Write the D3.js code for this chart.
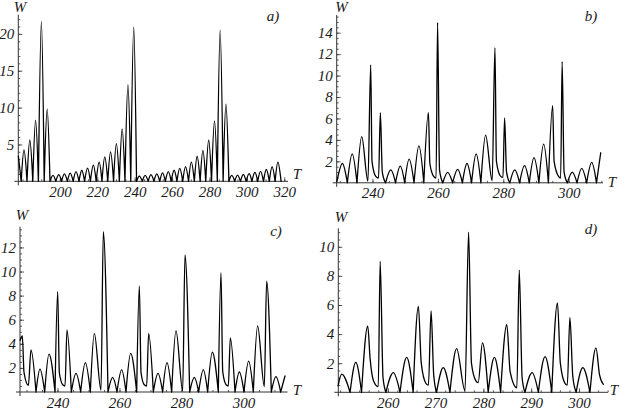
<!DOCTYPE html>
<meta charset="utf-8">
<script src="https://d3js.org/d3.v7.min.js"></script>
<style>
  body { margin: 0; background: #fff; }
  svg text { font-family: "Liberation Serif", "DejaVu Serif", serif !important; font-style: italic; font-size: 15px !important; fill: #1a1a1a; }
</style>
<svg id="chart" width="621" height="412"></svg>
<script>

// panel a) : vertices of the curve (time T, value W)
var aT = [177.8, 179.3, 180.8, 182.4, 183.9, 185.5, 187.0, 188.5, 190.1, 191.6,
  193.2, 194.7, 196.3, 197.8, 199.4, 200.9, 202.4, 204.0, 205.5, 207.1,
  208.6, 210.2, 211.7, 213.2, 214.8, 216.3, 217.9, 219.4, 221.0, 222.5,
  224.0, 225.6, 227.1, 228.7, 230.2, 231.8, 233.3, 234.8, 236.4, 237.9,
  239.5, 241.0, 242.5, 244.1, 245.6, 247.2, 248.7, 250.3, 251.8, 253.4,
  254.9, 256.4, 258.0, 259.5, 261.1, 262.6, 264.1, 265.7, 267.2, 268.8,
  270.3, 271.9, 273.4, 275.0, 276.5, 278.0, 279.6, 281.1, 282.7, 284.2,
  285.7, 287.3, 288.8, 290.4, 291.9, 293.5, 295.0, 296.6, 298.1, 299.6,
  301.2, 302.7, 304.3, 305.8, 307.3, 308.9, 310.4, 312.0, 313.5, 315.1,
  316.6, 318.3]
var aW = [3.4, 0, 4.25, 0, 5.6, 0, 8.3, 0, 21.7, 0,
  9.8, 0, 0.8, 0, 0.9, 0, 1.0, 0, 1.1, 0,
  1.3, 0, 1.5, 0, 1.8, 0, 2.2, 0, 2.6, 0,
  3.3, 0, 4.0, 0, 5.1, 0, 7.1, 0, 13.1, 0,
  20.9, 0, 0.7, 0, 0.8, 0, 0.9, 0, 1.0, 0,
  1.15, 0, 1.3, 0, 1.5, 0, 1.75, 0, 2.0, 0,
  2.6, 0, 3.4, 0, 4.2, 0, 5.6, 0, 8.2, 0,
  20.5, 0, 10.45, 0, 0.8, 0, 0.85, 0, 0.95, 0,
  1.05, 0, 1.2, 0, 1.35, 0, 1.6, 0, 2.0, 0,
  2.6, 0]

// panel b)
var bT = [229.1, 230.8, 232.3, 233.8, 235.25, 236.7, 238.6, 239.45, 239.85, 241.0,
  241.85, 242.4, 243.0, 244.0, 245.6, 247.05, 248.5, 249.85, 251.2, 252.7,
  254.2, 255.7, 257.1, 257.55, 258.7, 259.45, 259.9, 260.5, 261.5, 263.0,
  264.5, 266.05, 267.5, 268.9, 270.3, 271.7, 273.15, 274.6, 276.6, 277.45,
  277.9, 279.2, 279.9, 280.4, 281.0, 282.0, 283.5, 285.0, 286.5, 287.95,
  289.4, 290.9, 292.35, 293.8, 295.1, 295.55, 296.9, 297.55, 298.0, 298.6,
  299.6, 301.1, 302.55, 304.0, 305.5, 307.05, 308.5, 309.8]
var bW = [0.1, 1.8, 0, 2.7, 0, 4.3, 0.15, 11.0, 2.0, 0.6,
  0.45, 6.55, 1.0, 0, 1.2, 0, 1.55, 0, 2.2, 0,
  3.45, 0, 6.55, 1.8, 0.6, 0.45, 14.95, 1.2, 0, 0.97,
  0, 1.25, 0, 1.8, 0, 2.7, 0, 4.45, 0.2, 12.6,
  2.0, 0.6, 0.5, 6.05, 1.0, 0, 1.2, 0, 1.6, 0,
  2.35, 0, 3.6, 0, 7.2, 2.0, 0.6, 0.45, 11.3, 1.0,
  0, 1.0, 0, 1.35, 0, 1.9, 0, 2.8]

// panel c)
var cT = [227.95, 228.65, 229.2, 230.6, 231.45, 233.06, 234.35, 235.86, 237.26, 239.2,
  240.05, 240.6, 241.7, 242.42, 243.06, 244.46, 245.97, 247.47, 248.98, 250.59,
  251.88, 254.03, 254.78, 256.29, 257.8, 259.19, 260.7, 262.1, 263.6, 265.54,
  266.4, 266.95, 268.0, 268.76, 269.41, 270.91, 272.42, 273.92, 275.32, 276.83,
  278.23, 280.38, 281.13, 282.64, 284.14, 285.54, 287.04, 288.44, 289.95, 291.88,
  292.74, 293.3, 294.4, 295.11, 295.75, 297.26, 298.66, 300.16, 301.67, 303.17,
  304.57, 306.72, 307.47, 308.98, 310.48, 311.99, 313.39]
var cW = [4.3, 4.65, 1.6, 0.55, 3.5, 0, 1.9, 0, 3.15, 0,
  8.33, 1.6, 0.6, 0.5, 5.15, 0, 1.55, 0, 2.43, 0,
  4.87, 0.15, 13.3, 0, 1.22, 0, 1.83, 0, 3.2, 0,
  8.8, 1.6, 0.6, 0.5, 4.87, 0, 1.55, 0, 2.43, 0,
  5.1, 0.12, 11.37, 0, 1.22, 0, 1.83, 0, 3.3, 0,
  9.9, 1.7, 0.6, 0.5, 4.5, 0, 1.66, 0, 2.57, 0,
  5.48, 0.45, 9.2, 0, 1.27, 0, 1.33]

// panel d)
var dT = [249.6, 250.35, 252.1, 253.3, 254.5, 255.8, 256.3, 257.0, 258.0, 258.4,
  259.0, 259.6, 261.15, 262.55, 263.95, 265.3, 266.4, 267.0, 268.0, 268.5,
  269.05, 269.6, 270.2, 271.6, 273.0, 274.4, 276.15, 276.9, 277.5, 278.4,
  278.9, 279.8, 281.0, 282.3, 283.6, 284.9, 285.6, 287.0, 287.5, 288.1,
  288.7, 290.2, 291.5, 292.9, 294.3, 295.5, 296.1, 297.1, 297.55, 298.1,
  298.7, 299.4, 300.8, 302.3, 303.55, 304.3, 305.1]
var dW = [0.45, 1.25, 0, 2.05, 0, 4.55, 2.3, 0.8, 0.39, 9.0,
  1.0, 0, 1.35, 0, 2.4, 0, 5.9, 2.0, 0.6, 0.5,
  5.6, 1.2, 0, 1.7, 0, 3.0, 0.1, 11.0, 2.0, 0.8,
  0.66, 3.4, 0, 2.4, 0, 4.65, 1.4, 0.3, 8.4, 1.0,
  0, 1.35, 0, 2.45, 0, 6.15, 2.0, 0.6, 0.5, 5.15,
  1.1, 0, 1.7, 0, 3.05, 1.2, 0.55]

// tick labels
var aXTicks = [200, 220, 240, 260, 280, 300, 320]
var aYTicks = [5, 10, 15, 20]
var bXTicks = [240, 260, 280, 300]
var bYTicks = [2, 4, 6, 8, 10, 12, 14]
var cXTicks = [240, 260, 280, 300]
var cYTicks = [2, 4, 6, 8, 10, 12]
var dXTicks = [260, 270, 280, 290, 300]
var dYTicks = [2, 4, 6, 8, 10]

// layout of the four panels
var panels = [
  {name: "a)", T: aT, W: aW, xTicks: aXTicks, yTicks: aYTicks, xMinor: 5, yMinor: 1,
   xDom: [177.75, 322], xRange: [18.3, 288], yDom: [0, 22.6], yRange: [181.3, 14.7],
   wPos: [20, 12], tPos: [297, 179], namePos: [273, 21]},
  {name: "b)", T: bT, W: bW, xTicks: bXTicks, yTicks: bYTicks, xMinor: 5, yMinor: 0.5,
   xDom: [229.05, 310.5], xRange: [336.7, 603], yDom: [0, 15.65], yRange: [182.8, 15.0],
   wPos: [341.5, 12], tPos: [612, 187], namePos: [591, 21]},
  {name: "c)", T: cT, W: cW, xTicks: cXTicks, yTicks: cYTicks, xMinor: 5, yMinor: 0.5,
   xDom: [227.9, 314.2], xRange: [20, 287.5], yDom: [0, 13.72], yRange: [392, 226.7],
   wPos: [22, 220], tPos: [297, 395], namePos: [276, 236]},
  {name: "d)", T: dT, W: dW, xTicks: dXTicks, yTicks: dYTicks, xMinor: 2, yMinor: 0.5,
   xDom: [249.64, 306.07], xRange: [338.3, 608], yDom: [0, 11.27], yRange: [392.3, 228.3],
   wPos: [341, 222], tPos: [614, 395], namePos: [591, 234]}
]

var svg = d3.select("#chart")

// split the curve where it touches zero, so the valleys stay sharp
function segments(T, W) {
  var pts = d3.zip(T, W), segs = [], cur = []
  pts.forEach(function(p) {
    cur.push(p)
    if (p[1] === 0 && cur.length > 1) { segs.push(cur); cur = [p] }
  })
  if (cur.length > 1) segs.push(cur)
  return segs
}

function minorVals(dom, step) {
  return d3.range(Math.ceil(dom[0] / step) * step, dom[1], step)
}

panels.forEach(function(p) {
  var x = d3.scaleLinear().domain(p.xDom).range(p.xRange)
  var y = d3.scaleLinear().domain(p.yDom).range(p.yRange)
  var g = svg.append("g")
  var x0 = p.xRange[0], y0 = p.yRange[0]

  // x axis
  g.append("g").attr("transform", "translate(0," + y0 + ")")
    .call(d3.axisBottom(x).tickValues(minorVals(p.xDom, p.xMinor)).tickSize(-2).tickFormat(""))
    .call(function(s) { s.select(".domain").remove() })
  g.append("g").attr("transform", "translate(0," + y0 + ")")
    .call(d3.axisBottom(x).tickValues(p.xTicks).tickSize(-4).tickPadding(5))
    .call(function(s) { s.select(".domain").remove() })

  // y axis
  g.append("g").attr("transform", "translate(" + x0 + ",0)")
    .call(d3.axisLeft(y).tickValues(minorVals(p.yDom, p.yMinor).filter(function(v) { return v > 0 })).tickSize(-2).tickFormat(""))
    .call(function(s) { s.select(".domain").remove() })
  g.append("g").attr("transform", "translate(" + x0 + ",0)")
    .call(d3.axisLeft(y).tickValues(p.yTicks).tickSize(-4).tickPadding(4))
    .call(function(s) { s.select(".domain").remove() })

  g.selectAll("g").attr("font-family", "Liberation Serif").attr("font-size", 15)
  g.selectAll(".tick line").attr("stroke", "#333").attr("stroke-width", 0.8)

  g.append("line").attr("x1", x0 - 4).attr("x2", p.xRange[1]).attr("y1", y0).attr("y2", y0)
    .attr("stroke", "#333").attr("stroke-width", 1)
  g.append("line").attr("x1", x0).attr("x2", x0).attr("y1", y0 + 4).attr("y2", p.yRange[1])
    .attr("stroke", "#333").attr("stroke-width", 1)

  // curve
  var line = d3.line()
    .x(function(d) { return x(d[0]) })
    .y(function(d) { return y(d[1]) })
    .curve(d3.curveMonotoneX)
  g.append("path")
    .attr("d", segments(p.T, p.W).map(line).join(""))
    .attr("fill", "none")
    .attr("stroke", "#000")
    .attr("stroke-width", 1.3)
    .attr("stroke-linecap", "round")
    .attr("stroke-linejoin", "round")

  // labels
  g.append("text").attr("x", p.wPos[0]).attr("y", p.wPos[1]).attr("text-anchor", "middle").text("W")
  g.append("text").attr("x", p.tPos[0]).attr("y", p.tPos[1]).attr("text-anchor", "middle").text("T")
  g.append("text").attr("x", p.namePos[0]).attr("y", p.namePos[1]).attr("text-anchor", "middle").text(p.name)
})

</script>
